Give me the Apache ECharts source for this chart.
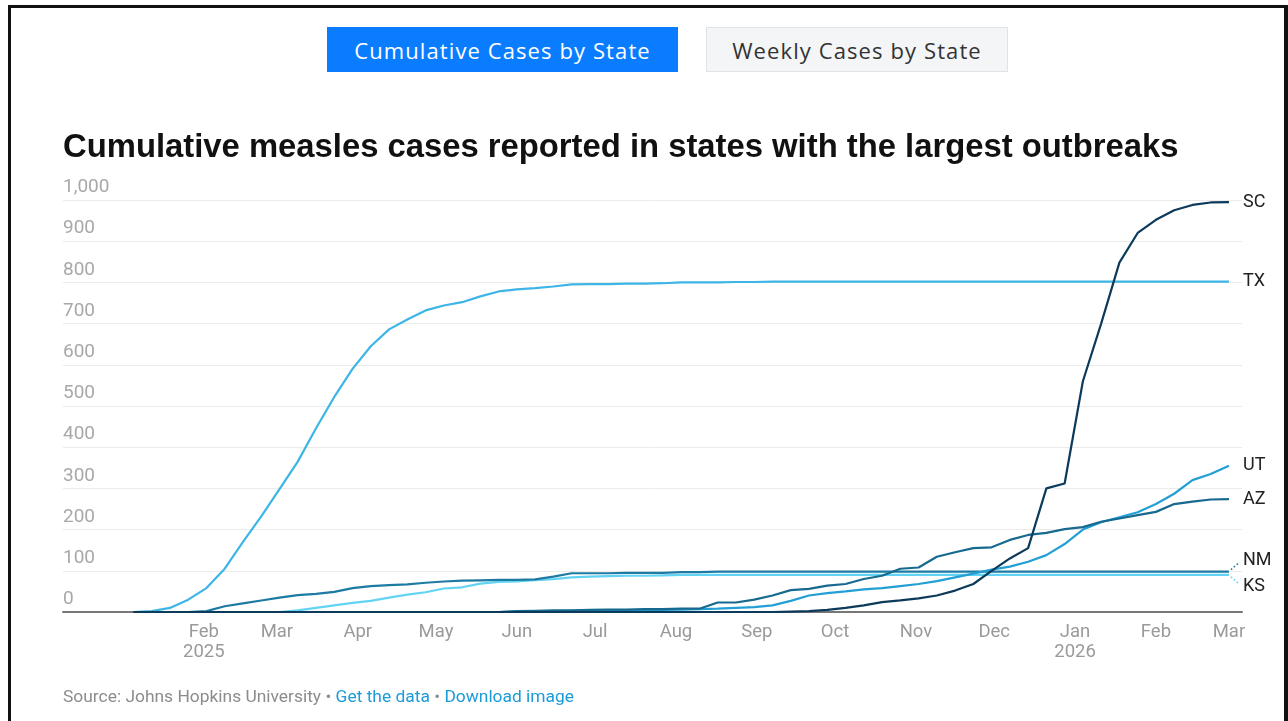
<!DOCTYPE html>
<html>
<head>
<meta charset="utf-8">
<title>Cumulative measles cases by state</title>
<script src="https://cdn.jsdelivr.net/npm/echarts@6/dist/echarts.min.js"></script>
<style>
  html, body { margin: 0; padding: 0; background: #fff; }
  body { width: 1288px; height: 721px; position: relative; overflow: hidden; font-family: Roboto, "Noto Sans", sans-serif; }
  #frame { position: absolute; left: 8px; top: 5px; width: 1280px; height: 760px; box-sizing: border-box; border: 3px solid #111; border-right-width: 4px; border-bottom: none; }
  #chart { position: absolute; left: 0; top: 0; width: 1288px; height: 721px; }
  .btn { position: absolute; top: 27px; height: 45px; box-sizing: border-box; display: flex; align-items: center; justify-content: center; font-family: "Open Sans", "Noto Sans", sans-serif; font-size: 22px; letter-spacing: 1.1px; }
  #btn-cum { left: 327px; width: 351px; background: #0a7cff; color: #fff; }
  #btn-week { left: 706px; width: 302px; background: #f4f5f7; color: #333; border: 1px solid #dfe2e6; }
  #title { position: absolute; left: 63px; top: 127px; font-family: "Liberation Sans", Arial, sans-serif; font-weight: 700; font-size: 32.8px; color: #111; white-space: nowrap; }
  #source { position: absolute; left: 63px; top: 686px; font-family: Roboto, sans-serif; font-size: 17.4px; color: #8c8c8c; white-space: nowrap; }
  #source a { color: #1b9bd8; text-decoration: none; }
</style>
</head>
<body>
<div id="frame"></div>
<div id="chart"></div>
<div class="btn" id="btn-cum">Cumulative Cases by State</div>
<div class="btn" id="btn-week">Weekly Cases by State</div>
<div id="title">Cumulative measles cases reported in states with the largest outbreaks</div>
<div id="source">Source: Johns Hopkins University • <a>Get the data</a> • <a>Download image</a></div>
<script>
// Weekly reporting dates (Sundays)
const weeks = [
  '2025-01-05','2025-01-12','2025-01-19','2025-01-26','2025-02-02','2025-02-09','2025-02-16','2025-02-23',
  '2025-03-02','2025-03-09','2025-03-16','2025-03-23','2025-03-30','2025-04-06','2025-04-13','2025-04-20',
  '2025-04-27','2025-05-04','2025-05-11','2025-05-18','2025-05-25','2025-06-01','2025-06-08','2025-06-15',
  '2025-06-22','2025-06-29','2025-07-06','2025-07-13','2025-07-20','2025-07-27','2025-08-03','2025-08-10',
  '2025-08-17','2025-08-24','2025-08-31','2025-09-07','2025-09-14','2025-09-21','2025-09-28','2025-10-05',
  '2025-10-12','2025-10-19','2025-10-26','2025-11-02','2025-11-09','2025-11-16','2025-11-23','2025-11-30',
  '2025-12-07','2025-12-14','2025-12-21','2025-12-28','2026-01-04','2026-01-11','2026-01-18','2026-01-25',
  '2026-02-01','2026-02-08','2026-02-15','2026-02-22','2026-03-01'
];

// Cumulative cases per state
const TX = [0,2,10,30,58,105,170,232,298,365,446,522,590,645,686,710,732,744,752,766,
  778,783,786,790,795,796,796,797,797,798,800,800,800,801,801,802,802,802,802,802,
  802,802,802,802,802,802,802,802,802,802,802,802,802,802,802,802,802,802,802,802,802];
const KS = [0,0,0,0,0,0,0,0,0,4,10,16,22,27,35,42,48,57,60,69,
  73,74,77,80,84,86,87,88,88,89,90,90,90,90,90,90,90,90,90,90,
  90,90,90,90,90,90,90,90,90,90,90,90,90,90,90,90,90,90,90,90,90];
const NM = [0,0,0,0,2,14,21,28,35,41,44,49,58,63,65,67,71,74,76,77,
  78,78,79,86,94,94,94,95,95,95,97,97,98,98,98,98,98,98,98,98,
  98,98,98,98,98,98,98,98,98,98,98,98,98,98,98,98,98,98,98,98,98];
const UT = [0,0,0,0,0,0,0,0,0,0,0,0,0,0,0,0,0,0,0,0,
  0,1,2,2,3,3,4,4,5,5,6,7,8,10,12,16,27,40,46,50,
  55,58,63,68,75,84,93,103,110,122,138,165,200,218,230,242,262,287,320,335,355];
const AZ = [0,0,0,0,0,0,0,0,0,0,0,0,0,0,0,0,0,0,0,0,
  0,2,3,4,4,5,6,6,7,7,8,8,23,23,30,40,53,56,64,68,
  80,88,105,108,134,145,155,157,175,187,192,201,206,219,227,235,243,262,268,273,274];
const SC = [0,0,0,0,0,0,0,0,0,0,0,0,0,0,0,0,0,0,0,0,
  0,0,0,0,0,0,0,0,0,0,0,0,0,0,0,0,1,2,5,10,
  16,24,28,33,40,52,68,100,130,155,300,312,560,700,848,920,952,975,988,994,995];

// Month ticks along the date axis
const tickDates = ['2025-02-01','2025-03-01','2025-04-01','2025-05-01','2025-06-01','2025-07-01',
  '2025-08-01','2025-09-01','2025-10-01','2025-11-01','2025-12-01','2026-01-01','2026-02-01','2026-03-01'];
const tickLabels = ['Feb\n2025','Mar','Apr','May','Jun','Jul','Aug','Sep','Oct','Nov','Dec','Jan\n2026','Feb','Mar'];

// y-axis ticks
const yTicks = [0,100,200,300,400,500,600,700,800,900,1000];

const DAY = 86400000;
// day number relative to 1 Jan 2025 (UTC, timezone independent)
function toDay(s) {
  const [y, m, d] = s.split('-').map(Number);
  return (Date.UTC(y, m - 1, d) - Date.UTC(2025, 0, 1)) / DAY;
}
const tickDays = tickDates.map(toDay);

// dy: vertical nudge of the end label, for the two states whose lines overlap
const states = [
  { name: 'TX', values: TX, color: '#3db5e6' },
  { name: 'KS', values: KS, color: '#62d3f3', dy: 12 },
  { name: 'NM', values: NM, color: '#1d7aa3', dy: -11 },
  { name: 'UT', values: UT, color: '#229fd4' },
  { name: 'AZ', values: AZ, color: '#17698f' },
  { name: 'SC', values: SC, color: '#0c3a5a' }
];

const chart = echarts.init(document.getElementById('chart'), null, { renderer: 'canvas' });

const series = states.map(st => ({
  name: st.name,
  type: 'line',
  data: weeks.map((w, i) => [toDay(w), st.values[i]]),
  showSymbol: false,
  symbol: 'none',
  lineStyle: { color: st.color, width: 2.2 },
  itemStyle: { color: st.color },
  emphasis: { disabled: true },
  animation: false,
  endLabel: {
    show: true,
    formatter: '{a}',
    color: '#222',
    fontSize: 18,
    lineHeight: 18,
    fontFamily: 'Roboto, sans-serif',
    distance: 14,
    offset: [0, st.dy || 0]
  }
}));

chart.setOption({
  animation: false,
  grid: { left: 63, right: 46, top: 200, bottom: 109, containLabel: false },
  xAxis: {
    type: 'value',
    min: toDay('2024-12-09'),
    max: toDay('2026-03-06'),
    axisLine: { show: true, onZero: false, lineStyle: { color: '#777', width: 2 } },
    axisTick: { show: false },
    splitLine: { show: false },
    axisLabel: {
      customValues: tickDays,
      formatter: v => {
        const i = tickDays.indexOf(v);
        return i >= 0 ? tickLabels[i] : '';
      },
      color: '#9a9a9a',
      fontSize: 18.5,
      fontFamily: 'Roboto, sans-serif',
      lineHeight: 20,
      margin: 10
    }
  },
  yAxis: {
    type: 'value',
    min: yTicks[0],
    max: yTicks[yTicks.length - 1],
    interval: 100,
    axisLine: { show: false },
    axisTick: { show: false },
    splitLine: { lineStyle: { color: '#ebebeb', width: 1 } },
    axisLabel: {
      inside: true,
      margin: 0,
      verticalAlign: 'bottom',
      padding: [0, 0, 3, 0],
      color: '#a8a8a8',
      fontSize: 19,
      fontFamily: 'Roboto, sans-serif',
      formatter: v => v.toLocaleString('en-US')
    }
  },
  series: series
});

// Dotted leaders from the last point of the nudged lines towards their labels
const leaders = [];
states.forEach((st, idx) => {
  if (!st.dy) return;
  const last = weeks.length - 1;
  const p = chart.convertToPixel({ seriesIndex: idx }, [toDay(weeks[last]), st.values[last]]);
  const dir = st.dy > 0 ? 1 : -1;
  leaders.push({
    type: 'line',
    silent: true,
    shape: { x1: p[0] + 2, y1: p[1] + dir * 2, x2: p[0] + 10, y2: p[1] + dir * 9 },
    style: { stroke: st.color, lineWidth: 1.6, lineDash: [1.6, 2.2] }
  });
});
chart.setOption({ graphic: leaders });
</script>
</body>
</html>
